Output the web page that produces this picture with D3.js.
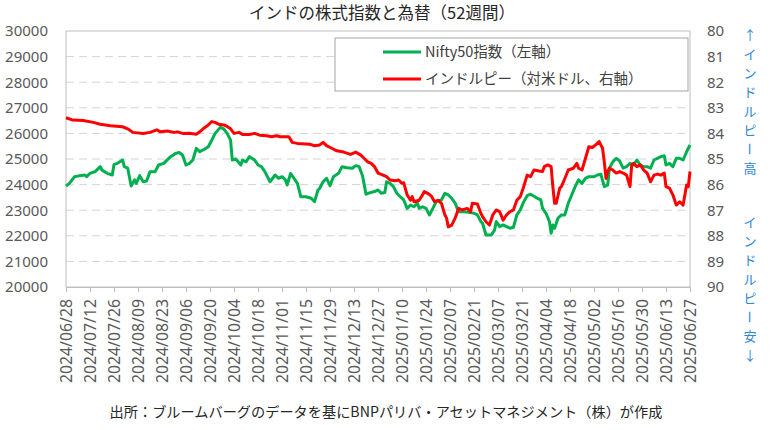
<!DOCTYPE html>
<html>
<head>
<meta charset="utf-8">
<script src="https://cdn.jsdelivr.net/npm/d3@7"></script>
<style>
  body { margin: 0; background: #fff; }
  svg { display: block; }
  text { font-family: "Noto Sans", "Noto Sans CJK JP", sans-serif; }
  .jp { font-family: "Noto Sans CJK JP", "Noto Sans", sans-serif; }
</style>
</head>
<body>
<svg width="775" height="430"></svg>
<script>
// Nifty50指数（左軸）
var nifty = [
  ["2024-06-28",23945],["2024-06-30",24050],["2024-07-03",24310],["2024-07-06",24350],
  ["2024-07-09",24375],["2024-07-10",24310],["2024-07-12",24440],["2024-07-15",24505],
  ["2024-07-18",24700],["2024-07-19",24565],["2024-07-22",24440],["2024-07-25",24375],
  ["2024-07-26",24790],["2024-07-28",24830],["2024-07-31",24960],["2024-08-01",24700],
  ["2024-08-03",24640],["2024-08-05",23945],["2024-08-07",24185],["2024-08-08",24050],
  ["2024-08-10",24350],["2024-08-12",24110],["2024-08-14",24140],["2024-08-16",24505],
  ["2024-08-19",24505],["2024-08-21",24765],["2024-08-24",24830],["2024-08-28",25090],
  ["2024-08-31",25220],["2024-09-02",25255],["2024-09-04",25150],["2024-09-06",24765],
  ["2024-09-08",24830],["2024-09-10",24960],["2024-09-12",25415],["2024-09-14",25285],
  ["2024-09-17",25390],["2024-09-19",25480],["2024-09-21",25735],["2024-09-23",26000],
  ["2024-09-26",26235],["2024-09-28",26175],["2024-09-30",26000],["2024-10-02",25735],
  ["2024-10-03",24960],["2024-10-05",25000],["2024-10-06",24920],["2024-10-08",24765],
  ["2024-10-09",24960],["2024-10-11",24890],["2024-10-13",25090],["2024-10-16",24960],
  ["2024-10-18",24765],["2024-10-20",24700],["2024-10-22",24505],["2024-10-25",24110],
  ["2024-10-28",24375],["2024-10-30",24245],["2024-11-01",24310],["2024-11-03",24185],
  ["2024-11-04",23985],["2024-11-06",24435],["2024-11-08",24245],["2024-11-10",24050],
  ["2024-11-12",23525],["2024-11-15",23525],["2024-11-18",23465],["2024-11-20",23335],
  ["2024-11-22",23790],["2024-11-23",23855],["2024-11-25",24110],["2024-11-27",24245],
  ["2024-11-29",23960],["2024-12-01",24310],["2024-12-04",24440],["2024-12-06",24700],
  ["2024-12-09",24655],["2024-12-12",24640],["2024-12-14",24740],["2024-12-16",24700],
  ["2024-12-18",24335],["2024-12-20",23625],["2024-12-22",23675],["2024-12-25",23730],
  ["2024-12-27",23790],["2024-12-29",23660],["2024-12-31",23690],["2025-01-01",24110],
  ["2025-01-03",24050],["2025-01-05",23920],["2025-01-07",23660],["2025-01-09",23525],
  ["2025-01-11",23400],["2025-01-13",23070],["2025-01-15",23200],["2025-01-17",23135],
  ["2025-01-19",23275],["2025-01-20",23070],["2025-01-22",23135],["2025-01-24",23070],
  ["2025-01-26",22815],["2025-01-28",23070],["2025-01-30",23335],["2025-02-02",23400],
  ["2025-02-04",23660],["2025-02-06",23595],["2025-02-08",23465],["2025-02-10",23275],
  ["2025-02-12",22940],["2025-02-15",22940],["2025-02-19",22905],["2025-02-21",22880],
  ["2025-02-23",22815],["2025-02-25",22555],["2025-02-26",22490],["2025-02-28",22030],
  ["2025-03-03",22030],["2025-03-05",22225],["2025-03-06",22555],["2025-03-08",22360],
  ["2025-03-10",22425],["2025-03-12",22360],["2025-03-14",22295],["2025-03-16",22335],
  ["2025-03-18",22815],["2025-03-20",23010],["2025-03-22",23325],["2025-03-24",23565],
  ["2025-03-26",23625],["2025-03-30",23465],["2025-04-01",23400],["2025-04-02",23070],
  ["2025-04-04",22880],["2025-04-06",22555],["2025-04-07",22100],["2025-04-08",22425],
  ["2025-04-09",22295],["2025-04-11",22685],["2025-04-13",22815],["2025-04-15",22815],
  ["2025-04-17",23275],["2025-04-19",23595],["2025-04-21",23920],["2025-04-23",24185],
  ["2025-04-25",24050],["2025-04-27",24245],["2025-04-29",24310],["2025-05-02",24310],
  ["2025-05-04",24375],["2025-05-06",24405],["2025-05-08",23920],["2025-05-10",23985],
  ["2025-05-11",24640],["2025-05-13",24890],["2025-05-15",25025],["2025-05-17",24920],
  ["2025-05-19",24640],["2025-05-21",24700],["2025-05-23",24830],["2025-05-25",24765],
  ["2025-05-27",24960],["2025-05-29",24765],["2025-05-31",24700],["2025-06-02",24700],
  ["2025-06-04",24640],["2025-06-06",24960],["2025-06-08",25025],["2025-06-10",25090],
  ["2025-06-12",25125],["2025-06-13",24765],["2025-06-15",24830],["2025-06-17",24700],
  ["2025-06-19",25025],["2025-06-21",25025],["2025-06-23",24960],["2025-06-25",25285],
  ["2025-06-27",25545]
];

// インドルピー（対米ドル、右軸）
var inr = [
  ["2024-06-28",83.39],["2024-07-02",83.48],["2024-07-08",83.50],["2024-07-14",83.57],
  ["2024-07-18",83.64],["2024-07-24",83.70],["2024-07-31",83.74],["2024-08-03",83.82],
  ["2024-08-06",83.96],["2024-08-12",84.00],["2024-08-16",83.96],["2024-08-20",83.86],
  ["2024-08-22",83.94],["2024-08-26",83.91],["2024-08-30",83.96],["2024-09-01",83.94],
  ["2024-09-04",84.00],["2024-09-08",83.99],["2024-09-12",84.03],["2024-09-14",83.94],
  ["2024-09-16",83.82],["2024-09-19",83.67],["2024-09-21",83.54],["2024-09-23",83.57],
  ["2024-09-25",83.64],["2024-09-28",83.67],["2024-09-30",83.73],["2024-10-02",83.82],
  ["2024-10-04",84.00],["2024-10-07",83.96],["2024-10-09",84.04],["2024-10-13",84.04],
  ["2024-10-16",84.00],["2024-10-19",84.07],["2024-10-23",84.09],["2024-10-26",84.13],
  ["2024-10-29",84.09],["2024-10-31",84.13],["2024-11-05",84.13],["2024-11-07",84.35],
  ["2024-11-10",84.39],["2024-11-17",84.42],["2024-11-20",84.48],["2024-11-23",84.45],
  ["2024-11-25",84.35],["2024-11-27",84.48],["2024-11-30",84.58],["2024-12-03",84.68],
  ["2024-12-07",84.73],["2024-12-11",84.82],["2024-12-14",84.73],["2024-12-17",84.85],
  ["2024-12-19",84.98],["2024-12-21",85.11],["2024-12-23",85.17],["2024-12-25",85.30],
  ["2024-12-27",85.55],["2024-12-30",85.63],["2025-01-01",85.69],["2025-01-03",85.82],
  ["2025-01-06",85.85],["2025-01-08",85.82],["2025-01-10",85.95],["2025-01-11",85.93],
  ["2025-01-13",86.40],["2025-01-15",86.61],["2025-01-16",86.47],["2025-01-17",86.67],
  ["2025-01-20",86.61],["2025-01-22",86.40],["2025-01-23",86.27],["2025-01-25",86.34],
  ["2025-01-27",86.44],["2025-01-29",86.67],["2025-01-31",86.61],["2025-02-02",86.73],
  ["2025-02-04",87.18],["2025-02-05",87.31],["2025-02-06",87.65],["2025-02-08",87.58],
  ["2025-02-10",87.31],["2025-02-12",86.93],["2025-02-14",86.99],["2025-02-17",86.93],
  ["2025-02-19",87.06],["2025-02-20",86.73],["2025-02-23",86.76],["2025-02-25",87.12],
  ["2025-02-26",87.25],["2025-02-28",87.45],["2025-03-02",87.58],["2025-03-04",87.18],
  ["2025-03-06",86.99],["2025-03-08",87.06],["2025-03-10",87.39],["2025-03-12",87.18],
  ["2025-03-14",87.06],["2025-03-16",86.99],["2025-03-18",86.61],["2025-03-20",86.47],
  ["2025-03-22",86.08],["2025-03-24",85.63],["2025-03-26",85.69],["2025-03-28",85.43],
  ["2025-03-31",85.47],["2025-04-02",85.49],["2025-04-03",85.30],["2025-04-05",85.23],
  ["2025-04-07",85.30],["2025-04-08",86.08],["2025-04-09",86.73],["2025-04-10",86.73],
  ["2025-04-12",86.14],["2025-04-13",86.08],["2025-04-15",85.76],["2025-04-17",85.43],
  ["2025-04-20",85.36],["2025-04-22",85.17],["2025-04-23",85.36],["2025-04-25",85.43],
  ["2025-04-27",84.98],["2025-04-29",84.52],["2025-05-01",84.55],["2025-05-03",84.45],
  ["2025-05-05",84.32],["2025-05-07",84.58],["2025-05-08",85.11],["2025-05-09",85.76],
  ["2025-05-10",85.49],["2025-05-11",85.36],["2025-05-13",85.43],["2025-05-15",85.55],
  ["2025-05-17",85.49],["2025-05-19",85.55],["2025-05-21",85.63],["2025-05-23",86.08],
  ["2025-05-24",85.23],["2025-05-25",85.17],["2025-05-27",85.30],["2025-05-29",85.23],
  ["2025-05-31",85.43],["2025-06-02",85.55],["2025-06-04",85.89],["2025-06-06",85.63],
  ["2025-06-08",85.59],["2025-06-10",85.63],["2025-06-12",85.55],["2025-06-13",86.08],
  ["2025-06-15",86.14],["2025-06-17",86.40],["2025-06-19",86.80],["2025-06-21",86.67],
  ["2025-06-23",86.80],["2025-06-25",86.02],["2025-06-26",86.08],["2025-06-27",85.49]
];

var xTickLabels = ["2024/06/28","2024/07/12","2024/07/26","2024/08/09","2024/08/23",
  "2024/09/06","2024/09/20","2024/10/04","2024/10/18","2024/11/01","2024/11/15",
  "2024/11/29","2024/12/13","2024/12/27","2025/01/10","2025/01/24","2025/02/07",
  "2025/02/21","2025/03/07","2025/03/21","2025/04/04","2025/04/18","2025/05/02",
  "2025/05/16","2025/05/30","2025/06/13","2025/06/27"];
var leftTicks = [20000,21000,22000,23000,24000,25000,26000,27000,28000,29000,30000];
var rightTicks = [80,81,82,83,84,85,86,87,88,89,90];

var title = "インドの株式指数と為替（52週間）";
var source = "出所：ブルームバーグのデータを基にBNPパリバ・アセットマネジメント（株）が作成";
var legendNames = ["Nifty50指数（左軸）", "インドルピー（対米ドル、右軸）"];
var rightNoteTop = "↑インドルピー高";
var rightNoteBottom = "インドルピー安↓";

var parseDate = d3.timeParse("%Y-%m-%d");
var parseTick = d3.timeParse("%Y/%m/%d");

// プロット領域
var plotL = 66, plotR = 690, plotT = 31, plotB = 287;
var svg = d3.select("svg");

var x = d3.scaleTime()
    .domain([parseTick(xTickLabels[0]), parseTick(xTickLabels[xTickLabels.length - 1])])
    .range([plotL, plotR]);
var yL = d3.scaleLinear().domain([20000, 30000]).range([plotB, plotT]);
var yR = d3.scaleLinear().domain([80, 90]).range([plotT, plotB]);

// グリッド線
svg.append("g").selectAll("line")
    .data(leftTicks.slice(1, -1))
  .enter().append("line")
    .attr("x1", plotL).attr("x2", plotR)
    .attr("y1", function(d) { return yL(d); })
    .attr("y2", function(d) { return yL(d); })
    .attr("stroke", "#d4d4d4")
    .attr("stroke-width", 1)
    .attr("stroke-dasharray", "8,5");

// 枠
svg.append("rect")
    .attr("x", plotL).attr("y", plotT)
    .attr("width", plotR - plotL).attr("height", plotB - plotT)
    .attr("fill", "none").attr("stroke", "#bfbfbf");

// 左軸
var gl = svg.append("g")
    .attr("transform", "translate(" + plotL + ",0)")
    .call(d3.axisLeft(yL).tickValues(leftTicks).tickSize(0).tickPadding(18).tickFormat(d3.format("d")));
gl.select(".domain").remove();
gl.selectAll("text").attr("fill", "#595959").style("font-size", "15px");

// 右軸
var gr = svg.append("g")
    .attr("transform", "translate(" + plotR + ",0)")
    .call(d3.axisRight(yR).tickValues(rightTicks).tickSize(0).tickPadding(17));
gr.select(".domain").remove();
gr.selectAll("text").attr("fill", "#595959").style("font-size", "15px");

// 下軸
var gx = svg.append("g")
    .attr("transform", "translate(0," + plotB + ")")
    .call(d3.axisBottom(x)
      .tickValues(xTickLabels.map(parseTick))
      .tickSize(5)
      .tickFormat(d3.timeFormat("%Y/%m/%d")));
gx.select(".domain").attr("stroke", "#bfbfbf");
gx.selectAll(".tick line").attr("stroke", "#bfbfbf");
gx.selectAll("text")
    .attr("fill", "#595959")
    .style("font-size", "15.8px")
    .attr("text-anchor", "end")
    .attr("transform", "rotate(-90)")
    .attr("x", -12)
    .attr("y", 0)
    .attr("dy", "0.35em");

// 線
var lineL = d3.line()
    .x(function(d) { return x(parseDate(d[0])); })
    .y(function(d) { return yL(d[1]); });
var lineR = d3.line()
    .x(function(d) { return x(parseDate(d[0])); })
    .y(function(d) { return yR(d[1]); });

svg.append("path").datum(nifty)
    .attr("d", lineL)
    .attr("fill", "none").attr("stroke", "#00b050")
    .attr("stroke-width", 3).attr("stroke-linejoin", "round");
svg.append("path").datum(inr)
    .attr("d", lineR)
    .attr("fill", "none").attr("stroke", "#ff0000")
    .attr("stroke-width", 3).attr("stroke-linejoin", "round");

// 凡例
var lg = svg.append("g");
lg.append("rect")
    .attr("x", 335).attr("y", 38).attr("width", 353).attr("height", 53)
    .attr("fill", "#fff").attr("stroke", "#a6a6a6");
var legendColors = ["#00b050", "#ff0000"];
legendNames.forEach(function(name, i) {
  var ly = 52 + i * 27;
  lg.append("line")
      .attr("x1", 383).attr("x2", 421).attr("y1", ly).attr("y2", ly)
      .attr("stroke", legendColors[i]).attr("stroke-width", 3);
  lg.append("text")
      .attr("class", "jp")
      .attr("x", 425).attr("y", ly).attr("dy", "0.35em")
      .attr("fill", "#404040")
      .style("font-size", "14.5px")
      .text(name);
});

// タイトル
svg.append("text")
    .attr("class", "jp")
    .attr("x", 382).attr("y", 13).attr("dy", "0.35em")
    .attr("text-anchor", "middle")
    .attr("fill", "#262626")
    .style("font-size", "16.5px")
    .text(title);

// 出所
svg.append("text")
    .attr("class", "jp")
    .attr("x", 386).attr("y", 412).attr("dy", "0.35em")
    .attr("text-anchor", "middle")
    .attr("fill", "#262626")
    .style("font-size", "14.2px")
    .text(source);

// 右側の縦書き注記
function verticalNote(str, y0) {
  Array.from(str).forEach(function(ch, i) {
    var cy = y0 + i * 19;
    var t = svg.append("text")
        .attr("class", "jp")
        .attr("text-anchor", "middle")
        .attr("dy", "0.35em")
        .attr("fill", "#2f88d8")
        .style("font-size", "13px")
        .text(ch);
    if (ch === "ー") {
      t.attr("transform", "translate(750," + cy + ") rotate(90)");
    } else {
      t.attr("x", 750).attr("y", cy);
    }
  });
}
verticalNote(rightNoteTop, 35);
verticalNote(rightNoteBottom, 222);
</script>
</body>
</html>
